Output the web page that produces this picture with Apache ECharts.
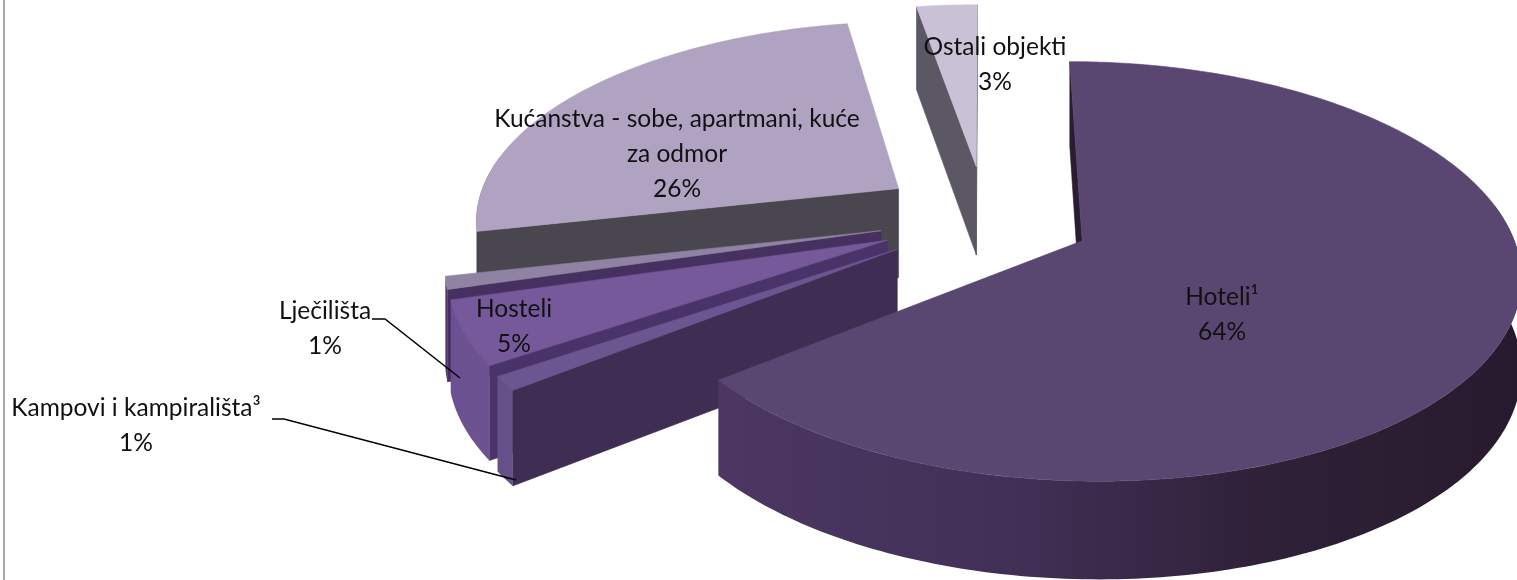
<!DOCTYPE html>
<html>
<head>
<meta charset="utf-8">
<style>html,body{margin:0;padding:0;background:#fff}#c{width:1517px;height:580px}</style>
<script src="https://cdn.jsdelivr.net/npm/echarts@6/dist/echarts.min.js"></script>
</head>
<body>
<div id="c"></div>
<script>
const categories = ['Hoteli¹', 'Kampovi i kampirališta³', 'Hosteli', 'Lječilišta', 'Kućanstva - sobe, apartmani, kuće\nza odmor', 'Ostali objekti'];
const shares = [64.4, 1.1, 5, 1, 25.8, 2.7];

// view of the tilted, exploded disc
const CX = 985, A = 425, Q0 = 7.213e-4, DQ = 1.033e-4, VY = -1169, DEPTH = 90, EX = 0.25, EY = 0.266;
const topColors = ['#5a4771', '#6c5690', '#76599b', '#8f82a3', '#b0a2c1', '#c9c1d5'];
const faceColors = ['#2a1c31', '#3f2d54', '#4a3369', '#46305f', '#4a4650', '#5b5764'];
const rimStops = [
  ['#4b3762', '#433058', '#2e2036', '#281a2e'],
  ['#65508a', '#65508a', '#65508a', '#65508a'],
  ['#6a5090', '#6c5291', '#6c5291', '#6c5291'],
  ['#4f3a6b', '#4f3a6b', '#4f3a6b', '#4f3a6b'],
  ['#4a4650', '#4a4650', '#4a4650', '#4a4650'],
  ['#5b5764', '#5b5764', '#5b5764', '#5b5764']
];
const labelCentres = [[1222, 315], [136, 426], [514, 327], [325, 329], [677, 154], [995, 65]];
const leaders = { 1: [[272, 419], [284, 419], [516, 480]], 3: [[372, 319], [385, 319], [460, 378]] };
const FONT = '24.5px Lato, "Open Sans", sans-serif';

const total = shares.reduce((a, b) => a + b, 0);
const rad = d => d * Math.PI / 180;
function project(X, Y, depth) {
  const q = Q0 + DQ * Y, s = Q0 / q;
  return [CX + A * X * s, VY + 1 / q + depth * Math.sqrt(s)];
}
function renderItem(params, api) {
  const i = params.dataIndex;
  let before = 0;
  for (let k = 0; k < i; k++) before += shares[k];
  const start = before / total * 360, end = (before + api.value(0)) / total * 360, mid = (start + end) / 2;
  const ox = EX * Math.sin(rad(mid)), oy = EY * Math.cos(rad(mid));
  const rim = (t, d) => project(ox + Math.sin(rad(t)), oy + Math.cos(rad(t)), d);
  const apex = d => project(ox, oy, d);
  const rank = (5 - i) * 10;
  const kids = [];
  const poly = (points, fill, z, stroke) => kids.push({
    type: 'polygon', shape: { points }, z2: rank + z,
    style: { fill, stroke: stroke || 'none', lineWidth: stroke ? 0.6 : 0 }
  });
  const cross = t => {
    const a = apex(0), b = rim(t, 0), c = rim(t, DEPTH);
    return (b[0] - a[0]) * (c[1] - b[1]) - (b[1] - a[1]) * (c[0] - b[0]);
  };
  const face = t => [apex(0), rim(t, 0), rim(t, DEPTH), apex(DEPTH)];
  if (cross(start) < 0) poly(face(start), faceColors[i], 1, faceColors[i]);
  if (cross(end) > 0) poly(face(end), faceColors[i], 1, faceColors[i]);
  // outer wall: only the part turned towards the viewer
  const a0 = Math.max(start, 80), a1 = Math.min(end, 280);
  if (a1 > a0) {
    const upper = [], lower = [];
    const n = Math.max(4, Math.ceil(a1 - a0));
    for (let k = 0; k <= n; k++) {
      const t = a0 + (a1 - a0) * k / n;
      upper.push(rim(t, 0));
      lower.unshift(rim(t, DEPTH));
    }
    const s = rimStops[i];
    poly(upper.concat(lower), {
      type: 'linear', x: 0, y: 0, x2: 1, y2: 0,
      colorStops: [{ offset: 0, color: s[0] }, { offset: 0.35, color: s[1] }, { offset: 0.7, color: s[2] }, { offset: 1, color: s[3] }]
    }, 2);
  }
  // top surface
  const top = [apex(0)];
  const m = Math.max(4, Math.ceil((end - start) * 1.5));
  for (let k = 0; k <= m; k++) top.push(rim(start + (end - start) * k / m, 0));
  poly(top, topColors[i], 3, topColors[i]);
  // labels
  const c = labelCentres[i];
  kids.push({
    type: 'text', z2: 200,
    style: { x: c[0], y: c[1], text: categories[i] + '\n' + Math.round(api.value(0)) + '%', font: FONT, lineHeight: 35, fill: '#111', align: 'center', verticalAlign: 'middle' }
  });
  if (leaders[i]) kids.push({ type: 'polyline', z2: 190, shape: { points: leaders[i] }, style: { stroke: '#000', lineWidth: 1.5, fill: 'none' } });
  return { type: 'group', children: kids };
}
const chart = echarts.init(document.getElementById('c'), null, { renderer: 'canvas' });
chart.setOption({
  animation: false,
  backgroundColor: '#fff',
  graphic: [{ type: 'rect', shape: { x: 3, y: 0, width: 2, height: 580 }, style: { fill: '#a8a8a8' } }],
  series: [{
    type: 'custom', coordinateSystem: 'none', silent: true, renderItem,
    data: shares.map((v, i) => ({ name: categories[i], value: [v] }))
  }]
});
</script>
</body>
</html>
